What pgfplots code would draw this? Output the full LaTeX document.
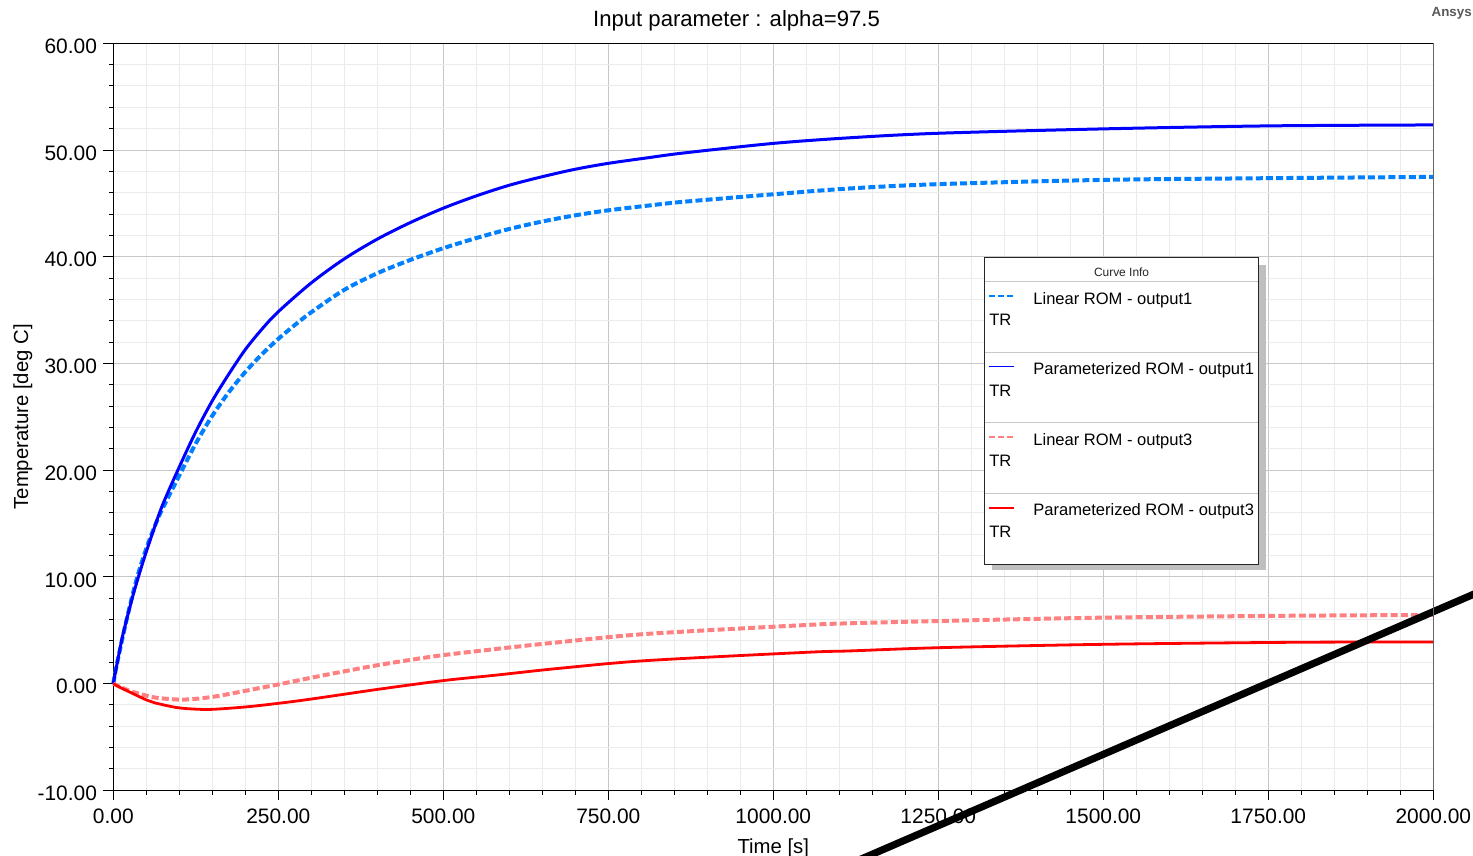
\documentclass[border=0pt]{standalone}
\usepackage{fontspec}
\setmainfont{Liberation Sans}
\usepackage{pgfplots}
\pgfplotsset{compat=1.18}
\definecolor{parblue}{RGB}{0,0,255}
\definecolor{linblue}{RGB}{0,128,255}
\definecolor{parred}{RGB}{255,0,0}
\definecolor{linred}{RGB}{255,128,128}
\begin{document}
\begin{tikzpicture}
\begin{axis}[
  set layers,
  at={(56.65bp,32.85bp)}, anchor=south west,
  scale only axis, width=660bp, height=373.5bp,
  xmin=0, xmax=2000, ymin=-10, ymax=60,
  xtick={0,250,...,2000}, ytick={-10,0,...,60},
  minor x tick num=4, minor y tick num=4,
  tick align=outside, tick pos=left,
  major tick length=5bp, minor tick length=2.2bp,
  grid=both,
  major grid style={color=black!22, line width=0.5bp},
  minor grid style={color=black!8, line width=0.5bp},
  major tick style={black, line width=0.5bp},
  minor tick style={black, line width=0.5bp},
  axis line style={black, line width=0.6bp},
  /pgf/number format/fixed,
  /pgf/number format/fixed zerofill,
  /pgf/number format/precision=2,
  /pgf/number format/1000 sep={},
  /pgf/number format/assume math mode=true,
  ticklabel style={font=\fontsize{10.5}{12}\selectfont, inner sep=0pt},
  xticklabel style={anchor=north, yshift=-4bp},
  yticklabel style={anchor=east, xshift=-3bp, yshift=-1.5bp},
  xlabel={Time [s]}, ylabel={Temperature [deg C]},
  every axis x label/.style={at={(axis description cs:0.5,0)}, yshift=-28.8bp, anchor=center, font=\fontsize{10.2}{12}\selectfont},
  every axis y label/.style={at={(axis description cs:0,0.5)}, xshift=-45.2bp, rotate=90, anchor=center, font=\fontsize{10.2}{12}\selectfont},
  clip=false,
]
% Linear ROM - output1
\addplot[linblue, line width=2bp, dash pattern=on 3.5bp off 1.6bp, smooth] coordinates {
(0,0) (5,1.7) (20,5.95) (35,9.7) (50,12.65) (70,15.8) (100,19.5) (125,22.5) (150,25.1)
(175,27.3) (200,29.2) (225,30.85) (250,32.3) (275,33.6) (300,34.8) (350,36.9) (400,38.45)
(450,39.7) (500,40.8) (550,41.75) (600,42.6) (650,43.3) (700,43.88) (750,44.35) (813,44.81)
(864,45.15) (1000,45.85) (1116.7,46.4) (1250,46.8) (1500,47.2) (1750,47.36) (2000,47.48)};
% Parameterized ROM - output1
\addplot[parblue, line width=1.5bp, smooth] coordinates {
(0,0) (8,2.6) (15,4.7) (30,8.3) (45,11.4) (60,14.2) (75,16.8) (100,20.3) (125,23.6)
(150,26.5) (175,29.0) (200,31.3) (225,33.2) (250,34.85) (300,37.55) (350,39.8) (400,41.65)
(450,43.2) (500,44.55) (550,45.7) (600,46.7) (650,47.5) (700,48.2) (750,48.75) (813,49.3)
(864,49.72) (1000,50.62) (1116.7,51.15) (1250,51.57) (1500,51.98) (1750,52.26) (2000,52.35)};
% Linear ROM - output3
\addplot[linred, line width=2bp, dash pattern=on 3.5bp off 1.6bp, smooth] coordinates {
(0,0) (10,-0.3) (28.8,-0.76) (62.6,-1.3) (100,-1.5) (125,-1.43) (150,-1.25) (175,-0.98)
(200,-0.68) (225,-0.38) (250,-0.08) (300,0.55) (350,1.15) (400,1.72) (450,2.22) (500,2.67)
(581,3.25) (671,3.85) (807,4.65) (1050,5.49) (1116,5.65) (1254.5,5.87) (1501,6.18)
(1789.5,6.36) (2000,6.43)};
% Parameterized ROM - output3
\addplot[parred, line width=1.4bp, smooth] coordinates {
(0,0) (10,-0.35) (28.8,-0.91) (50.5,-1.54) (62.6,-1.8) (96.5,-2.25) (126,-2.4) (151.5,-2.41)
(202,-2.18) (250,-1.85) (301,-1.44) (402,-0.53) (500,0.28) (581,0.8) (671,1.4) (807,2.15)
(1050,2.93) (1116,3.06) (1254.5,3.37) (1501,3.68) (1789.5,3.87) (2000,3.9)};
% annotation stroke
\addplot[black, line width=3.6bp] coordinates {(1116,-16.9) (2101,9.44)};
\end{axis}
\begin{scope}[shift={(0,428bp)}, x=0.5bp, y=-0.5bp]
  \draw[black!60, line width=0.6bp] (1433.3,43.3) -- (1433.3,790.3);
  \node[anchor=base, font=\fontsize{11.1}{13}\selectfont] at (736.5,27) {Input parameter : alpha=97.5};
  \node[anchor=base, font=\bfseries\fontsize{6.7}{8}\selectfont, text=black!65] at (1451.7,17) {Ansys};
  % legend
  \fill[black!25] (992,265) rectangle (1265.7,570.5);
  \filldraw[fill=white, draw=black!85, line width=0.5bp] (985,258) rectangle (1258.3,564.3);
  \draw[black!22, line width=0.5bp] (985,281.7) -- (1258.3,281.7);
  \draw[black!22, line width=0.5bp] (985,352.3) -- (1258.3,352.3);
  \draw[black!22, line width=0.5bp] (985,422.7) -- (1258.3,422.7);
  \draw[black!22, line width=0.5bp] (985,493.3) -- (1258.3,493.3);
  \node[anchor=base, font=\fontsize{6}{7}\selectfont, text=black!85] at (1121.6,276.7) {Curve Info};
  \draw[linblue, line width=0.7bp, dash pattern=on 3bp off 1.5bp] (989,296) -- (1014,296);
  \draw[parblue, line width=0.8bp] (989,366.7) -- (1014,366.7);
  \draw[linred, line width=0.7bp, dash pattern=on 3bp off 1.5bp] (989,437.2) -- (1014,437.2);
  \draw[parred, line width=0.8bp] (989,507.8) -- (1014,507.8);
  \begin{scope}[every node/.style={anchor=base west, inner sep=0pt, font=\fontsize{8.3}{10}\selectfont}]
    \node at (1033,304.3) {Linear ROM - output1};
    \node at (989,326) {TR};
    \node at (1033,374.9) {Parameterized ROM - output1};
    \node at (989,396.6) {TR};
    \node at (1033,445.3) {Linear ROM - output3};
    \node at (989,467) {TR};
    \node at (1033,515.9) {Parameterized ROM - output3};
    \node at (989,537.6) {TR};
  \end{scope}
\end{scope}
\pgfresetboundingbox
\useasboundingbox (0,0) rectangle (736.5bp,428bp);
\end{tikzpicture}
\end{document}
